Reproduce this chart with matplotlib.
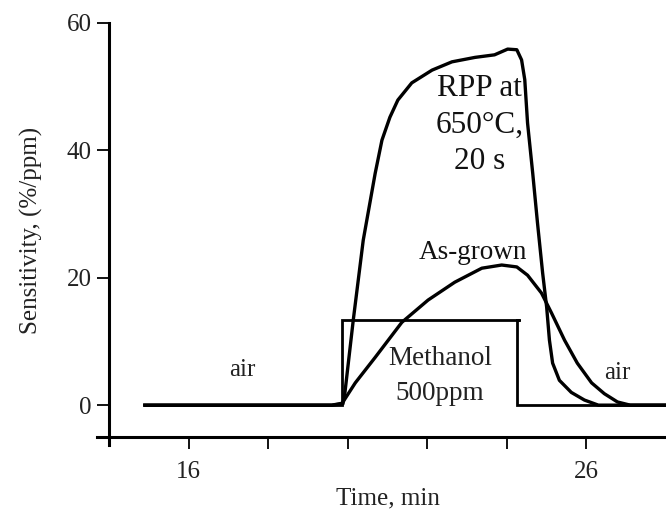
import matplotlib
matplotlib.use("Agg")
import matplotlib.pyplot as plt

plt.rcParams['font.family'] = ['Liberation Serif', 'DejaVu Serif']

# data (time in min, sensitivity in %/ppm)
rpp_t = [14.9, 19.6, 19.88, 19.93, 20.14, 20.39, 20.69, 20.86, 21.06, 21.26,
         21.61, 22.12, 22.62, 23.2, 23.69, 24.02, 24.25, 24.37, 24.45, 24.52,
         24.65, 24.77, 24.9, 25.0, 25.07, 25.15, 25.32, 25.62, 25.95, 26.3, 28.0]
rpp_v = [0, 0, 0.2, 2.0, 13.4, 25.9, 36.4, 41.6, 45.2, 47.9,
         50.6, 52.6, 53.9, 54.6, 55.0, 55.9, 55.8, 54.2, 51.1, 44.3,
         36.4, 28.6, 20.7, 15.4, 10.2, 6.6, 3.9, 2.0, 0.8, 0, 0]

grown_t = [14.9, 19.6, 19.86, 20.19, 20.69, 21.36, 22.02, 22.69, 23.37, 23.87,
           24.25, 24.52, 24.87, 25.12, 25.45, 25.77, 26.13, 26.45, 26.78, 27.1, 28.0]
grown_v = [0, 0, 0.3, 3.5, 7.5, 13.0, 16.5, 19.3, 21.5, 22.0,
           21.7, 20.4, 17.6, 14.5, 10.2, 6.6, 3.5, 1.8, 0.5, 0, 0]

meth_t = [14.9, 19.85, 19.85, 24.32, 24.25, 24.25, 28.0]
meth_v = [0, 0, 13.4, 13.4, 13.4, 0, 0]

fig = plt.figure(figsize=(6.66, 5.12), dpi=100)
ax = fig.add_axes([0.1637, 0.1465, 0.8363, 0.8086])

ax.plot(meth_t, meth_v, color='black', lw=2.0, solid_joinstyle='miter')
ax.plot(grown_t, grown_v, color='black', lw=2.4, solid_joinstyle='round')
ax.plot(rpp_t, rpp_v, color='black', lw=2.4, solid_joinstyle='round')

ax.set_xlim(14, 28)
ax.set_ylim(-5, 60)

for s in ['top', 'right']:
    ax.spines[s].set_visible(False)
ax.spines['left'].set_linewidth(2.2)
ax.spines['bottom'].set_linewidth(2.2)
ax.spines['left'].set_bounds(-6.2, 60)
ax.spines['bottom'].set_bounds(13.7, 28)

ax.set_xticks([16, 18, 20, 22, 24, 26])
ax.set_xticklabels(['16', '', '', '', '', '26'])
ax.set_yticks([0, 20, 40, 60])
ax.tick_params(axis='both', direction='out', length=8.5, width=1.3,
               labelsize=18, labelcolor='#222222')
ax.tick_params(axis='x', pad=9)
ax.tick_params(axis='y', pad=4)

ax.set_xlabel('Time, min', fontsize=18, color='#222222', labelpad=3)
ax.set_ylabel('Sensitivity, (%/ppm)', fontsize=18, color='#222222', labelpad=17)

ax.text(23.32, 44.0, 'RPP at\n650°C,\n20 s', fontsize=22.5, ha='center', va='center',
        linespacing=1.35, color='#111111')
ax.text(23.14, 24.0, 'As-grown', fontsize=19.5, ha='center', va='center', color='#111111')
ax.text(22.32, 7.4, 'Methanol', fontsize=19.5, ha='center', va='center', color='#222222')
ax.text(22.32, 1.9, '500ppm', fontsize=19.5, ha='center', va='center', color='#222222')
ax.text(17.35, 5.5, 'air', fontsize=18, ha='center', va='center', color='#222222')
ax.text(26.78, 5.0, 'air', fontsize=18, ha='center', va='center', color='#222222')

fig.savefig('out.png', dpi=100)
